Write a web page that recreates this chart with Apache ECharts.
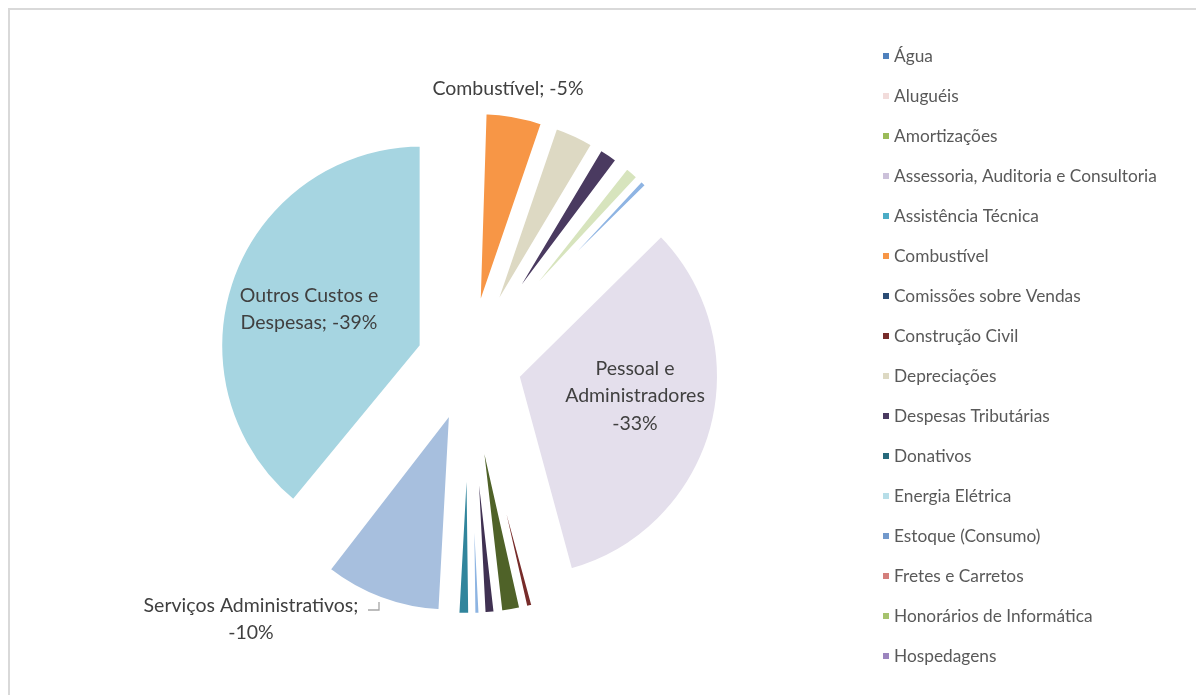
<!DOCTYPE html>
<html>
<head>
<meta charset="utf-8">
<script src="https://cdn.jsdelivr.net/npm/echarts@6/dist/echarts.min.js"></script>
<style>
  html, body { margin: 0; padding: 0; background: #fff; }
  #chart { width: 1196px; height: 695px; }
</style>
</head>
<body>
<div id="chart"></div>
<script>
// slices in drawing order (clockwise from 12 o'clock), values in % (costs, negative)
const categories = [
  'Amortizações', 'Assessoria, Auditoria e Consultoria', 'Assistência Técnica',
  'Comissões sobre Vendas', 'Estoque (Consumo)', 'Hospedagens',
  'Água', 'Aluguéis', 'Combustível', 'Depreciações', 'Despesas Tributárias',
  'Donativos', 'Energia Elétrica', 'Manutenção', 'Material de Expediente',
  'Pessoal e Administradores', 'Construção Civil', 'Seguros', 'Telefone',
  'Viagens', 'Impostos e Taxas', 'Serviços Administrativos',
  'Fretes e Carretos', 'Honorários de Informática', 'Outros Custos e Despesas'
];
const values = [
  0, 0, 0,
  0, 0, 0,
  -0.25, -0.25, -4.75, -3.33, -1.67,
  -0.2, -0.19, -1.28, -0.69,
  -33.17, -0.69, -1.72, -1.0,
  -0.61, -1.06, -9.61,
  -0.25, -0.25, -39.03
];
const colors = [
  '#9bbb59', '#ccc1da', '#4bacc6',
  '#2c4d75', '#7299cc', '#9c85bf',
  '#4f81bd', '#f2dcdb', '#f79646', '#ddd9c3', '#4a3a60',
  '#276a7c', '#b7dee8', '#d7e4bd', '#8eb4e3',
  '#e4dfec', '#772c2a', '#4f6228', '#403152',
  '#8db4e2', '#31859c', '#a7bfde',
  '#d47f7c', '#a6c36e', '#a6d5e1'
];
// legend as shown (truncated list)
const legendNames = [
  'Água', 'Aluguéis', 'Amortizações', 'Assessoria, Auditoria e Consultoria',
  'Assistência Técnica', 'Combustível', 'Comissões sobre Vendas', 'Construção Civil',
  'Depreciações', 'Despesas Tributárias', 'Donativos', 'Energia Elétrica',
  'Estoque (Consumo)', 'Fretes e Carretos', 'Honorários de Informática', 'Hospedagens'
];
// labelled slices
const labelTemplates = {
  'Combustível': '{name}; {pct}',
  'Outros Custos e Despesas': 'Outros Custos e\nDespesas; {pct}',
  'Pessoal e Administradores': 'Pessoal e\nAdministradores\n{pct}',
  'Serviços Administrativos': '{name};\n{pct}'
};
// label centres in px
const labelPos = {
  'Combustível': [508, 89],
  'Outros Custos e Despesas': [309, 309],
  'Pessoal e Administradores': [635, 396],
  'Serviços Administrativos': [251, 619]
};

const FONT = 'Lato';
const BORDER = 4.6;
const EXPLODE = 50;

const total = values.reduce((s, v) => s + Math.abs(v), 0);
// mid angle of each slice, clockwise from 12 o'clock (radians)
function midAngle(i) {
  let before = 0;
  for (let k = 0; k < i; k++) before += Math.abs(values[k]);
  return (before + Math.abs(values[i]) / 2) / total * Math.PI * 2;
}

const pieData = categories.map((name, i) => {
  const item = {
    name: name,
    value: Math.abs(values[i]),
    selected: true,
    itemStyle: { color: colors[i] }
  };
  if (values[i] === 0) item.itemStyle.borderWidth = 0;
  if (labelTemplates[name]) item.label = { show: true };
  return item;
});

const chart = echarts.init(document.getElementById('chart'));
chart.setOption({
  animation: false,
  backgroundColor: '#fff',
  graphic: [{
    type: 'rect',
    shape: { x: 9, y: 9, width: 1220, height: 720 },
    style: { fill: 'none', stroke: '#d9d9d9', lineWidth: 2 },
    silent: true
  }, {
    // leader line of the "Serviços Administrativos" label
    type: 'polyline',
    shape: { points: [[368, 610], [379, 610], [379, 602]] },
    style: { fill: 'none', stroke: '#a6a6a6', lineWidth: 1.3 },
    silent: true
  }],
  legend: {
    orient: 'vertical',
    left: 878,
    top: 41,
    itemWidth: 6,
    itemHeight: 6,
    itemGap: 20,
    icon: 'rect',
    selectedMode: false,
    data: legendNames,
    itemStyle: { borderWidth: 0 },
    textStyle: { fontFamily: FONT, fontSize: 17.3, color: '#595959', lineHeight: 20 }
  },
  series: [{
    type: 'pie',
    center: [469, 363],
    radius: 202,
    startAngle: 90,
    clockwise: true,
    selectedMode: 'multiple',
    selectedOffset: EXPLODE,
    avoidLabelOverlap: false,
    silent: true,
    emphasis: { disabled: true, scale: false },
    itemStyle: { borderColor: '#fff', borderWidth: BORDER },
    select: { itemStyle: { borderColor: '#fff', borderWidth: BORDER } },
    label: {
      show: false,
      position: 'inside',
      fontFamily: FONT,
      fontSize: 19.5,
      lineHeight: 27.5,
      color: '#404040',
      align: 'center',
      formatter: function (p) {
        const v = values[p.dataIndex];
        const pct = Math.round(v) + '%';
        return (labelTemplates[p.name] || '').replace('{name}', p.name).replace('{pct}', pct);
      }
    },
    labelLine: { show: false },
    labelLayout: function (params) {
      const pos = labelPos[categories[params.dataIndex]];
      if (!pos) return {};
      const r = params.labelRect;
      const a = midAngle(params.dataIndex);
      // the label travels with its exploded slice afterwards
      return {
        dx: pos[0] - (r.x + r.width / 2) - EXPLODE * Math.sin(a),
        dy: pos[1] - (r.y + r.height / 2) + EXPLODE * Math.cos(a)
      };
    },
    data: pieData
  }]
});
</script>
</body>
</html>
